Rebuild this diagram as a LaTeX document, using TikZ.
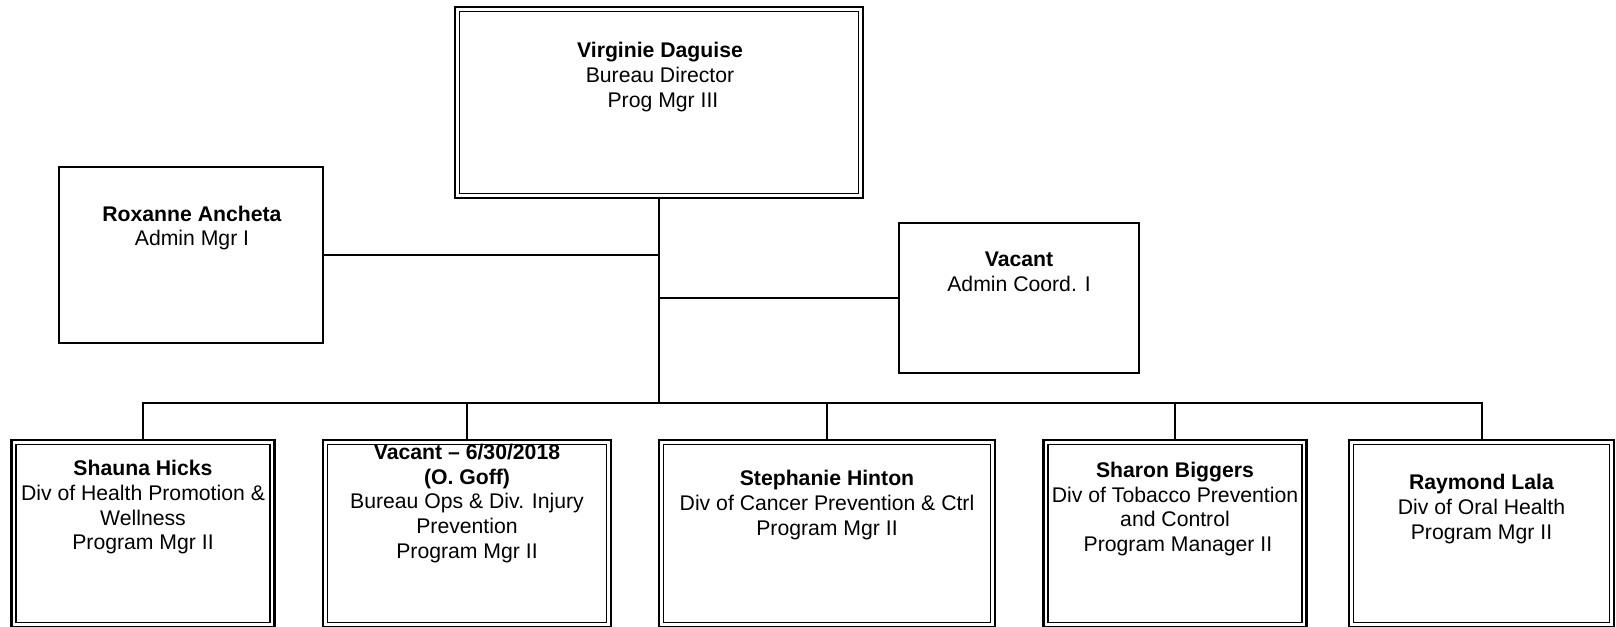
\documentclass[tikz,border=0pt]{standalone}
\usepackage{fontspec}
\setmainfont{Liberation Sans}
\begin{document}
\begin{tikzpicture}[x=0.75pt,y=-0.75pt,
  sbox/.style={draw, line width=1.5pt, outer sep=0pt, inner sep=0pt},
  dbox/.style={draw, line width=1.6pt, outer sep=0pt, inner sep=0pt,
    path picture={\draw[line width=1pt]
      ([shift={(3.4pt,-3.4pt)}]path picture bounding box.north west) rectangle
      ([shift={(-3.4pt,3.4pt)}]path picture bounding box.south east);}},
  txt/.style={align=center, inner sep=0pt, font=\fontsize{15.9}{18.5}\selectfont},
  conn/.style={line width=1.5pt}]
\useasboundingbox (0,0) rectangle (1616,626);

% boxes
\node[dbox, minimum width=408*0.75pt, minimum height=191*0.75pt] (top) at (659,102.5) {};
\node[sbox, minimum width=264*0.75pt, minimum height=176*0.75pt] (rox) at (191,254.7) {};
\node[sbox, minimum width=240*0.75pt, minimum height=150*0.75pt] (vac) at (1019,298.3) {};
\node[dbox, minimum width=263*0.75pt, minimum height=187*0.75pt] (b1) at (143,533.5) {};
\node[dbox, minimum width=288*0.75pt, minimum height=187*0.75pt] (b2) at (467,533.5) {};
\node[dbox, minimum width=336*0.75pt, minimum height=187*0.75pt] (b3) at (827,533.5) {};
\node[dbox, minimum width=263*0.75pt, minimum height=187*0.75pt] (b4) at (1175,533.5) {};
\node[dbox, minimum width=265*0.75pt, minimum height=187*0.75pt] (b5) at (1481.5,533.5) {};

% texts
\node[txt] (ttop) at (660,77) {\textbf{Virginie Daguise}\\Bureau Director\\\hspace*{.28em}Prog Mgr III};
\node[txt] (trox) at (192,228) {\textbf{Roxanne Ancheta}\\Admin Mgr I};
\node[txt] (tvac) at (1019,272) {\textbf{Vacant}\\Admin Coord. I};
\node[txt] (t1) at (143,507.5) {\textbf{Shauna Hicks}\\Div of Health Promotion \&\\Wellness\\Program Mgr II};
\node[txt] (t2) at (467,503.5) {\textbf{Vacant – 6/30/2018}\\\textbf{(O. Goff)}\\Bureau Ops \& Div. Injury\\Prevention\\Program Mgr II};
\node[txt] (t3) at (827,505) {\textbf{Stephanie Hinton}\\Div of Cancer Prevention \& Ctrl\\Program Mgr II};
\node[txt] (t4) at (1175,509) {\textbf{Sharon Biggers}\\Div of Tobacco Prevention\\and Control\\\hspace*{.28em}Program Manager II};
\node[txt] (t5) at (1481.5,509) {\textbf{Raymond Lala}\\Div of Oral Health\\Program Mgr II};

% connectors
\coordinate (bus) at (659,402.7);
\draw[conn] (top.south) -- (bus);
\draw[conn] (rox.east) -- (rox.east -| bus);
\draw[conn] (vac.west) -- (vac.west -| bus);
\draw[conn] (b1.north) -- (b1.north |- bus) -- (b5.north |- bus) -- (b5.north);
\foreach \b in {b2,b3,b4} \draw[conn] (\b.north) -- (\b.north |- bus);
\end{tikzpicture}
\end{document}
